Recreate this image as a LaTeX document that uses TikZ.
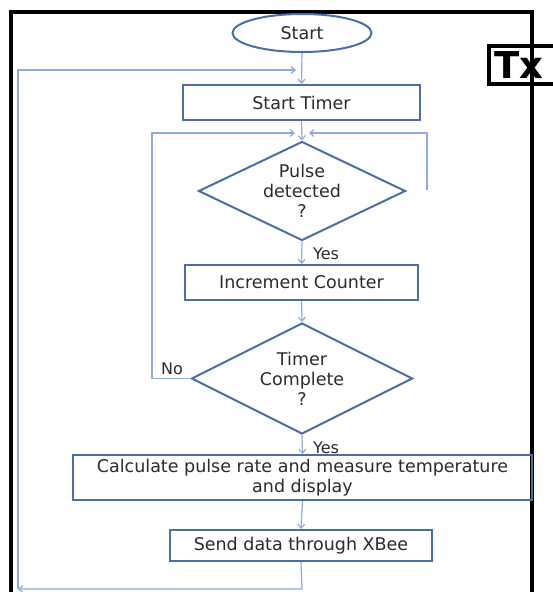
\documentclass[tikz,border=0pt]{standalone}
\usepackage{fontspec}
\setmainfont{DejaVu Sans}
\usetikzlibrary{shapes.geometric,arrows.meta}
\definecolor{shapeblue}{HTML}{4A6FA5}
\definecolor{lineblue}{HTML}{8FAADC}
\definecolor{txtgray}{HTML}{2B2B2B}
\begin{document}
\begin{tikzpicture}[x=1pt,y=-1pt,
  every node/.style={font=\fontsize{17.5}{20}\selectfont, text=txtgray, inner sep=0pt},
  procbox/.style={draw=shapeblue, line width=2pt, rectangle, align=center},
  decision/.style={draw=shapeblue, line width=2pt, diamond, aspect=2, align=center},
  terminal/.style={draw=shapeblue, line width=2pt, ellipse},
  conn/.style={draw=lineblue, line width=1.2pt},
  arr/.style={conn, -{Straight Barb[length=4pt,width=7pt]}},
  lbl/.style={font=\fontsize{16}{18}\selectfont},
  frame/.style={draw=black, line width=4pt}
]
\useasboundingbox (0,0) rectangle (553,592);
\fill[white] (0,0) rectangle (553,592);

% outer frame
\draw[frame] (11,600) -- (11,12) -- (532,12) -- (532,600);

% Tx box
\node[draw=black, line width=3.5pt, minimum width=75pt, minimum height=38pt, anchor=north west,
      text=black, font=\fontsize{37}{37}\selectfont\bfseries, align=left, text width=69pt] (tx) at (487,44) {\hspace*{3pt}Tx};

% nodes
\node[terminal, minimum width=139pt, minimum height=38pt] (start) at (302,33) {Start};
\node[procbox, minimum width=237pt, minimum height=35pt] (timer) at (301.5,102.5) {Start Timer};
\node[decision, minimum width=207pt, minimum height=99pt] (pulse) at (302,191) {Pulse\\detected\\?};
\node[procbox, minimum width=233pt, minimum height=35pt] (inc) at (301.5,282.5) {Increment Counter};
\node[decision, minimum width=221pt, minimum height=111pt] (tc) at (302,378.5) {Timer\\Complete\\?};
\node[procbox, minimum width=459pt, minimum height=45pt] (calc) at (302.5,477.5) {Calculate pulse rate and measure temperature\\and display};
\node[procbox, minimum width=262pt, minimum height=31pt] (send) at (301,545.5) {Send data through XBee};

% helper coordinates
\coordinate (topin) at (296,70);
\coordinate (tl) at (18,70);
\coordinate (bl) at (18,589);
\coordinate (br) at (302,589);
\coordinate (pin) at (295,133);
\coordinate (pinr) at (309,133);
\coordinate (lt) at (152,133);
\coordinate (lb) at (152,378.5);
\coordinate (rt) at (427,133);
\coordinate (rb) at (427,190);

% connectors
\draw[arr] (start.south) -- (timer.north);
\draw[arr] (timer.south) -- (pulse.north);
\draw[arr] (pulse.south) -- (inc.north);
\draw[arr] (inc.south) -- (tc.north);
\draw[arr] (tc.south) -- (calc.north);
\draw[arr] (calc.south) -- (send.north);
\draw[arr] (send.south) -- (br) -- (bl);
\draw[arr] (bl) -- (tl) -- (topin);
\draw[arr] (tc.west) -- (lb) -- (lt) -- (pin);
\draw[arr] (rb) -- (rt) -- (pinr);

% labels
\node[lbl] (yes1) at (326,254) {Yes};
\node[lbl] (yes2) at (326,448) {Yes};
\node[lbl] (no) at (172,369) {No};
\end{tikzpicture}
\end{document}
